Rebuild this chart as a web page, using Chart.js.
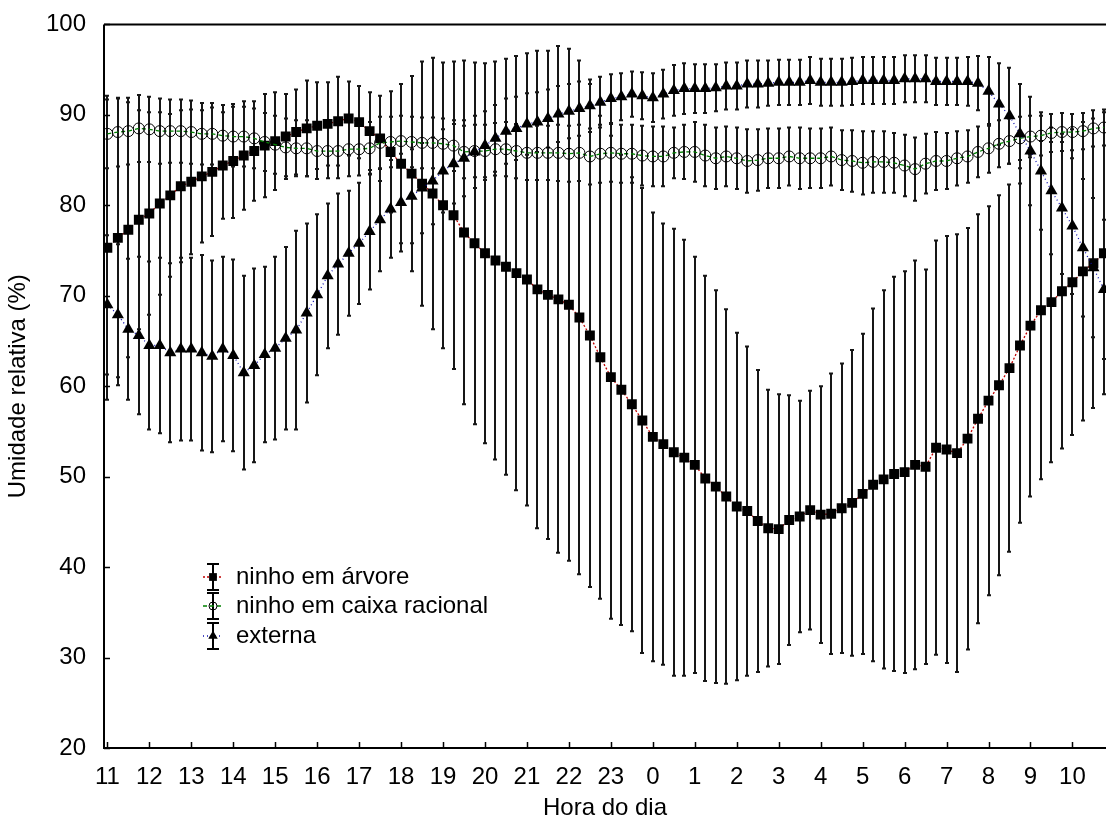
<!DOCTYPE html>
<html lang="pt">
<head>
<meta charset="utf-8">
<title>Umidade relativa</title>
<script src="https://cdn.jsdelivr.net/npm/chart.js@4.4.1/dist/chart.umd.min.js"></script>
<style>
  html, body { margin: 0; padding: 0; background: #fff; overflow: hidden; }
  #wrap { width: 1113px; height: 833px; }
</style>
</head>
<body>
<div id="wrap"><canvas id="rhChart" width="1113" height="833"></canvas></div>
<script>
/* ---------------------------
   Data
--------------------------- */
const times = [
  "11:00","11:15","11:30","11:45","12:00","12:15","12:30","12:45",
  "13:00","13:15","13:30","13:45","14:00","14:15","14:30","14:45",
  "15:00","15:15","15:30","15:45","16:00","16:15","16:30","16:45",
  "17:00","17:15","17:30","17:45","18:00","18:15","18:30","18:45",
  "19:00","19:15","19:30","19:45","20:00","20:15","20:30","20:45",
  "21:00","21:15","21:30","21:45","22:00","22:15","22:30","22:45",
  "23:00","23:15","23:30","23:45","0:00","0:15","0:30","0:45",
  "1:00","1:15","1:30","1:45","2:00","2:15","2:30","2:45",
  "3:00","3:15","3:30","3:45","4:00","4:15","4:30","4:45",
  "5:00","5:15","5:30","5:45","6:00","6:15","6:30","6:45",
  "7:00","7:15","7:30","7:45","8:00","8:15","8:30","8:45",
  "9:00","9:15","9:30","9:45","10:00","10:15","10:30","10:45"
];

const hourLabels = ["11","12","13","14","15","16","17","18","19","20","21","22",
                    "23","0","1","2","3","4","5","6","7","8","9","10"];

const seriesNames = ["ninho em árvore", "ninho em caixa racional", "externa"];

// ninho em árvore (mean, sd)
const arvoreMean = [
  75.3,76.4,77.3,78.4,79.1,80.2,81.1,82.1,82.6,83.2,
  83.7,84.4,84.9,85.5,86.0,86.6,87.1,87.6,88.1,88.5,
  88.8,89.0,89.3,89.6,89.2,88.2,87.4,85.9,84.6,83.5,
  82.4,81.3,80.0,78.9,77.0,75.8,74.7,73.9,73.2,72.5,
  71.8,70.7,70.1,69.6,69.0,67.6,65.6,63.2,61.0,59.6,
  58.0,56.2,54.4,53.6,52.7,52.1,51.3,49.8,48.9,47.8,
  46.7,46.2,45.1,44.3,44.2,45.2,45.6,46.3,45.8,45.9,
  46.5,47.1,48.1,49.1,49.7,50.3,50.5,51.3,51.1,53.2,
  53.0,52.6,54.2,56.4,58.4,60.1,62.0,64.5,66.7,68.4,
  69.3,70.5,71.5,72.7,73.6,74.7
];
const arvoreSd = [
  16.8,15.4,14.1,12.1,11.2,10.1,9.0,8.4,8.0,7.3,
  7.1,5.9,6.3,6.0,5.5,5.7,5.4,4.7,4.7,5.3,
  4.8,4.6,4.9,4.1,4.0,4.3,4.7,6.7,8.8,10.8,
  13.5,15.0,15.8,17.0,19.0,20.0,21.0,22.0,23.0,24.0,
  25.0,26.4,27.0,28.0,28.3,28.4,27.8,26.7,26.7,26.0,
  25.1,25.7,24.8,24.4,24.7,24.1,23.0,22.4,21.7,20.7,
  19.2,18.2,16.7,15.3,14.9,13.8,12.8,13.2,14.2,15.5,
  16.0,16.9,17.7,19.5,20.9,21.8,22.2,22.6,21.8,22.9,
  23.6,24.2,23.3,22.6,21.5,21.0,20.3,19.6,18.9,18.7,
  17.7,17.4,16.9,16.5,16.0,15.6
];

// ninho em caixa racional (mean, sd)
const caixaMean = [
  87.9,88.1,88.2,88.5,88.4,88.2,88.2,88.2,88.1,87.9,
  87.9,87.7,87.6,87.6,87.4,87.0,86.7,86.4,86.3,86.3,
  86.0,86.0,86.0,86.2,86.2,86.3,86.9,87.0,87.1,87.0,
  86.9,86.9,86.8,86.6,85.9,86.0,86.0,86.2,86.2,86.0,
  85.8,85.8,85.8,85.8,85.7,85.8,85.4,85.7,85.8,85.7,
  85.7,85.5,85.4,85.4,85.8,85.9,85.9,85.5,85.2,85.4,
  85.2,84.9,85.0,85.2,85.2,85.4,85.2,85.2,85.2,85.4,
  85.0,84.9,84.7,84.8,84.8,84.7,84.4,84.0,84.6,84.9,
  84.9,85.2,85.4,85.9,86.3,86.8,87.1,87.4,87.6,87.7,
  88.0,88.1,88.1,88.2,88.5,88.6
];
const caixaSd = [
  3.8,3.8,3.7,3.7,3.6,3.6,3.5,3.5,3.5,3.4,
  3.4,3.4,3.3,3.3,3.3,3.2,3.2,3.2,3.1,3.1,
  3.1,3.0,3.0,3.0,2.9,2.9,2.9,2.8,2.8,2.8,
  2.8,2.8,2.8,2.8,2.9,2.9,2.9,2.9,3.0,3.0,
  3.0,3.0,3.0,3.1,3.1,3.1,3.1,3.2,3.2,3.2,
  3.2,3.3,3.3,3.3,2.8,3.0,3.3,3.4,3.4,3.3,
  3.4,3.5,3.4,3.3,3.3,3.2,3.4,3.3,3.3,3.2,
  3.3,3.4,3.5,3.4,3.4,3.3,3.4,3.5,3.3,3.2,
  3.1,3.0,2.9,2.8,2.7,2.6,2.5,2.4,2.3,2.2,
  2.1,2.1,2.0,2.0,2.0,2.0
];

// externa (mean, sd)
const externaMean = [
  69.0,67.9,66.3,65.6,64.5,64.5,63.7,64.1,64.1,63.7,
  63.3,64.1,63.4,61.5,62.3,63.5,64.2,65.3,66.2,68.1,
  70.1,72.2,73.5,74.7,75.8,77.1,78.4,79.6,80.3,81.0,
  81.9,82.7,83.8,84.6,85.2,85.9,86.6,87.4,88.2,88.5,
  89.0,89.2,89.6,90.1,90.4,90.7,91.0,91.4,91.8,92.0,
  92.3,92.1,91.9,92.3,92.7,92.9,92.9,92.9,93.0,93.2,
  93.2,93.4,93.4,93.5,93.6,93.6,93.6,93.8,93.6,93.6,
  93.6,93.7,93.8,93.8,93.8,93.8,94.0,94.0,94.0,93.7,
  93.7,93.7,93.7,93.5,92.6,91.2,89.9,87.9,86.0,83.8,
  81.6,79.7,77.7,75.3,73.1,70.7
];
const externaSd = [
  7.7,7.8,7.8,8.7,9.3,9.7,9.9,10.1,10.1,10.8,
  10.6,10.2,10.6,10.7,10.7,9.7,10.1,10.1,11.0,9.9,
  8.9,8.0,7.8,6.9,6.7,6.4,5.7,5.4,5.4,5.2,
  5.0,4.8,4.6,4.4,4.2,4.0,3.8,3.7,3.6,3.5,
  3.4,3.3,3.2,3.1,3.0,3.0,2.9,2.8,2.7,2.6,
  2.5,2.6,2.7,2.7,2.8,2.8,2.7,2.7,2.6,2.6,
  2.6,2.6,2.6,2.5,2.5,2.5,2.5,2.6,2.6,2.6,
  2.6,2.6,2.6,2.6,2.6,2.6,2.6,2.6,2.6,2.6,
  2.6,2.6,2.7,3.0,3.8,4.5,5.3,5.5,6.0,6.5,
  7.0,7.3,7.5,7.6,7.7,7.7
];

/* ---------------------------
   Helpers
--------------------------- */
const FONT = '"Liberation Sans", Arial, Helvetica, sans-serif';

function hoursFrom11(t) {
  const [h, m] = t.split(":").map(Number);
  return ((h - 11 + 24) % 24) + m / 60;
}

function toPoints(values) {
  return values.map((v, i) => ({ x: hoursFrom11(times[i]), y: v }));
}

const styles = [
  { line: "#c00000", dash: [2, 2], marker: "rect", radius: 7, fill: "#000" },
  { line: "#008000", dash: [4, 3], marker: "circle", radius: 5.5, fill: "rgba(0,0,0,0)" },
  { line: "#1010b0", dash: [1, 3], marker: "triangle", radius: 7, fill: "#000" }
];

const seriesList = [
  { mean: arvoreMean, sd: arvoreSd },
  { mean: caixaMean, sd: caixaSd },
  { mean: externaMean, sd: externaSd }
];

/* ---------------------------
   Plugins: error bars, frame, legend
--------------------------- */
const errorBars = {
  id: "errorBars",
  beforeDatasetsDraw(chart) {
    const { ctx, chartArea: a, scales: { x, y } } = chart;
    ctx.save();
    ctx.beginPath();
    ctx.rect(a.left, a.top, a.right - a.left, a.bottom - a.top);
    ctx.clip();
    ctx.strokeStyle = "#161616";
    ctx.lineWidth = 2;
    seriesList.forEach(s => {
      s.mean.forEach((m, i) => {
        const px = Math.round(x.getPixelForValue(hoursFrom11(times[i])));
        const top = y.getPixelForValue(m + s.sd[i]);
        const bot = y.getPixelForValue(m - s.sd[i]);
        ctx.beginPath();
        ctx.moveTo(px, top);
        ctx.lineTo(px, bot);
        ctx.moveTo(px - 2, top);
        ctx.lineTo(px + 2, top);
        ctx.moveTo(px - 2, bot);
        ctx.lineTo(px + 2, bot);
        ctx.stroke();
      });
    });
    ctx.restore();
  }
};

const frame = {
  id: "frame",
  afterDatasetsDraw(chart) {
    const { ctx, chartArea: a, scales: { x, y } } = chart;
    ctx.save();
    ctx.strokeStyle = "#000";
    ctx.lineWidth = 2;
    ctx.beginPath();
    ctx.moveTo(a.left, a.top);
    ctx.lineTo(a.right, a.top);
    ctx.moveTo(a.left, a.top);
    ctx.lineTo(a.left, a.bottom);
    ctx.lineTo(a.right, a.bottom);
    ctx.stroke();

    // inward tick marks
    ctx.lineWidth = 1.5;
    ctx.beginPath();
    x.ticks.forEach(t => {
      const px = Math.round(x.getPixelForValue(t.value)) + 0.5;
      ctx.moveTo(px, a.bottom);
      ctx.lineTo(px, a.bottom - 6);
    });
    y.ticks.forEach(t => {
      const py = Math.round(y.getPixelForValue(t.value)) + 0.5;
      ctx.moveTo(a.left, py);
      ctx.lineTo(a.left + 6, py);
    });
    ctx.stroke();
    ctx.restore();
  }
};

function drawMarker(ctx, style, cx, cy, r) {
  ctx.beginPath();
  if (style.marker === "rect") {
    const h = r * Math.SQRT1_2;
    ctx.rect(cx - h, cy - h, 2 * h, 2 * h);
    ctx.fillStyle = "#000";
    ctx.fill();
  } else if (style.marker === "circle") {
    ctx.arc(cx, cy, r, 0, Math.PI * 2);
    ctx.strokeStyle = "#000";
    ctx.lineWidth = 1;
    ctx.stroke();
  } else {
    ctx.moveTo(cx, cy - r);
    ctx.lineTo(cx + r * 0.866, cy + r * 0.5);
    ctx.lineTo(cx - r * 0.866, cy + r * 0.5);
    ctx.closePath();
    ctx.fillStyle = "#000";
    ctx.fill();
  }
}

const boxLegend = {
  id: "boxLegend",
  afterDraw(chart) {
    const { ctx } = chart;
    const rowsY = [577, 606, 636];
    const sx = 213;
    ctx.save();
    seriesNames.forEach((name, i) => {
      const st = styles[i];
      const cy = rowsY[i];
      // error bar symbol
      ctx.strokeStyle = "#000";
      ctx.lineWidth = 2;
      ctx.setLineDash([]);
      ctx.beginPath();
      ctx.moveTo(sx, cy - 13);
      ctx.lineTo(sx, cy + 13);
      ctx.moveTo(sx - 6, cy - 13);
      ctx.lineTo(sx + 6, cy - 13);
      ctx.moveTo(sx - 6, cy + 13);
      ctx.lineTo(sx + 6, cy + 13);
      ctx.stroke();
      // series line
      ctx.strokeStyle = st.line;
      ctx.lineWidth = 1.5;
      ctx.setLineDash(st.dash);
      ctx.beginPath();
      ctx.moveTo(sx - 10, cy);
      ctx.lineTo(sx + 10, cy);
      ctx.stroke();
      ctx.setLineDash([]);
      drawMarker(ctx, st, sx, cy, st.marker === "circle" ? 4 : 5.5);
      // label
      ctx.fillStyle = "#000";
      ctx.font = "24px " + FONT;
      ctx.textAlign = "left";
      ctx.textBaseline = "middle";
      ctx.fillText(name, 236, cy);
    });
    ctx.restore();
  }
};

/* ---------------------------
   Chart
--------------------------- */
const datasets = seriesList.map((s, i) => ({
  label: seriesNames[i],
  data: toPoints(s.mean),
  borderColor: styles[i].line,
  borderWidth: 1.3,
  borderDash: styles[i].dash,
  pointStyle: styles[i].marker,
  pointRadius: styles[i].radius,
  pointBackgroundColor: styles[i].fill,
  pointBorderColor: "#000",
  pointBorderWidth: styles[i].marker === "circle" ? 1 : 0,
  fill: false,
  tension: 0,
  order: 3 - i
}));

const ctx = document.getElementById("rhChart").getContext("2d");

new Chart(ctx, {
  type: "line",
  data: { datasets },
  options: {
    responsive: false,
    animation: false,
    devicePixelRatio: 1,
    layout: { padding: { top: 21, right: 0, bottom: 0, left: 0 } },
    plugins: {
      legend: { display: false },
      tooltip: { enabled: false }
    },
    scales: {
      x: {
        type: "linear",
        min: -0.08,
        max: 23.8,
        grid: { display: false },
        border: { display: false },
        afterBuildTicks: scale => {
          scale.ticks = hourLabels.map((_, i) => ({ value: i }));
        },
        afterFit: scale => { scale.height = 85; },
        ticks: {
          autoSkip: false,
          maxRotation: 0,
          padding: 7,
          color: "#000",
          font: { family: FONT, size: 24 },
          callback: v => hourLabels[v]
        },
        title: {
          display: true,
          text: "Hora do dia",
          color: "#000",
          font: { family: FONT, size: 24 },
          padding: { top: 0, bottom: 10 }
        }
      },
      y: {
        min: 20,
        max: 100,
        grid: { display: false },
        border: { display: false },
        afterFit: scale => { scale.width = 104; },
        ticks: {
          stepSize: 10,
          padding: 10,
          color: "#000",
          font: { family: FONT, size: 24 }
        },
        title: {
          display: true,
          text: "Umidade relativa (%)",
          color: "#000",
          font: { family: FONT, size: 24 },
          padding: { top: 4, bottom: 0 }
        }
      }
    }
  },
  plugins: [errorBars, frame, boxLegend]
});
</script>
</body>
</html>
